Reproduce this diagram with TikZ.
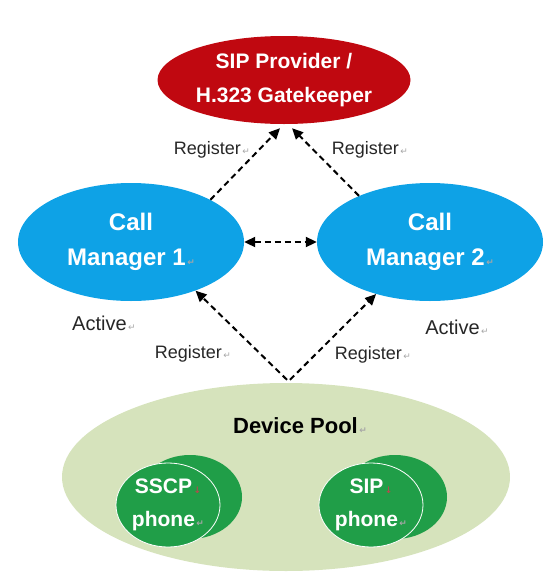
\documentclass[tikz,border=0pt]{standalone}
\usepackage{fontspec}
\setmainfont{Liberation Sans}
\newfontfamily\markfont{DejaVu Sans}
\usetikzlibrary{shapes.geometric, arrows.meta, positioning}

\definecolor{gkred}{RGB}{192,8,16}
\definecolor{cmblue}{RGB}{14,162,230}
\definecolor{poolgreen}{RGB}{214,227,188}
\definecolor{phonegreen}{RGB}{32,158,72}

\newcommand{\crmark}{{\markfont\fontsize{9}{9}\selectfont\color{gray!70}\,↵}}
\newcommand{\dnmark}{{\markfont\fontsize{9}{9}\selectfont\color{red!40!gray}\,↓}}

\begin{document}
\begin{tikzpicture}[
  x=1pt, y=-1pt,
  every node/.style = {font=\fontsize{18}{18}\selectfont},
  blob/.style = {
    ellipse,
    inner sep=0pt,
    align=center,
    text=white
  },
  gatekeeper/.style = {
    blob,
    fill=gkred,
    minimum width=253pt,
    minimum height=88pt,
    font=\bfseries\fontsize{21}{34}\selectfont
  },
  manager/.style = {
    blob,
    fill=cmblue,
    minimum width=226pt,
    minimum height=118pt,
    font=\bfseries\fontsize{24}{35}\selectfont
  },
  pool/.style = {
    ellipse,
    fill=poolgreen,
    minimum width=448pt,
    minimum height=188pt
  },
  phone/.style = {
    blob,
    fill=phonegreen,
    minimum width=104pt,
    minimum height=84pt,
    font=\bfseries\fontsize{21}{33}\selectfont
  },
  note/.style = {text=black!85},
  arrow/.style = {
    -{Triangle[length=11pt,width=10pt]},
    dash pattern=on 6pt off 4pt,
    line width=2pt,
    black
  },
  twoway/.style = {
    arrow,
    {Triangle[length=11pt,width=10pt]}-{Triangle[length=11pt,width=10pt]}
  }
]

\useasboundingbox (0,0) rectangle (546,573);

\node[gatekeeper] (gk) at (284,80) {SIP Provider /\\H.323 Gatekeeper};

\node[manager] (cm1) at (131,242) {Call\\Manager 1\crmark};
\node[manager] (cm2) at (430,242) {Call\\Manager 2\crmark};

\node[note, font=\fontsize{20}{20}\selectfont] (act1) at (104,323) {Active\crmark};
\node[note, font=\fontsize{20}{20}\selectfont] (act2) at (457,327) {Active\crmark};

\node[pool] (pool) at (286,477) {};
\node[font=\bfseries\fontsize{22}{22}\selectfont] (pooltitle) at (300,426) {Device Pool\crmark};

\node[phone] (sscpback) at (190,497) {};
\node[phone, draw=white, line width=0.8pt] (sscp) at (168,505) {SSCP\dnmark\\phone\crmark};

\node[phone] (sipback) at (395,497) {};
\node[phone, draw=white, line width=0.8pt] (sip) at (371,505) {SIP\dnmark\\phone\crmark};

\node[note] (reg1) at (212,150) {Register\crmark};
\node[note] (reg2) at (370,150) {Register\crmark};
\node[note] (reg3) at (193,354) {Register\crmark};
\node[note] (reg4) at (373,355) {Register\crmark};

\draw[arrow] (cm1.28) -- ([xshift=-4pt,yshift=-4pt]gk.south);
\draw[arrow] (cm2.147) -- ([xshift=8pt,yshift=-4pt]gk.south);
\draw[twoway] (cm1.east) -- (cm2.west);
\draw[arrow] ([xshift=1pt,yshift=3pt]pool.north) -- (cm1.-37);
\draw[arrow] ([xshift=4pt,yshift=3pt]pool.north) -- (cm2.-136);

\end{tikzpicture}
\end{document}
